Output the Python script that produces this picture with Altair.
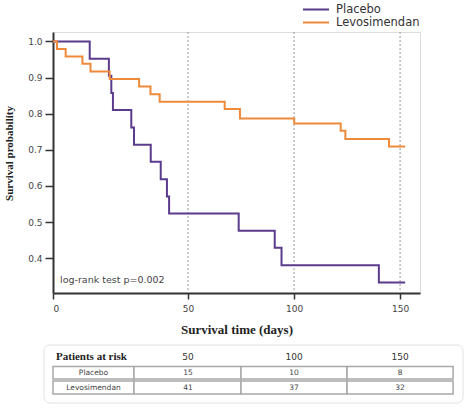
import altair as alt
import pandas as pd

# Kaplan-Meier estimates: event times (days) and survival after each step
placebo_days = [0, 13.6, 20.7, 21.6, 22.2, 29.0, 30.0, 36.2, 39.9, 42.2, 43.0, 73.9, 90.9, 94.1, 140.0, 152.4]
placebo_surv = [1.0, 0.952, 0.905, 0.857, 0.810, 0.762, 0.714, 0.667, 0.619, 0.571, 0.524, 0.476, 0.429, 0.381, 0.333, 0.333]

levo_days = [0, 1.5, 4.7, 10.9, 13.9, 21.0, 31.9, 36.1, 39.5, 67.3, 74.5, 100.1, 122.0, 124.2, 144.8, 152.4]
levo_surv = [1.0, 0.979, 0.958, 0.938, 0.917, 0.896, 0.875, 0.854, 0.833, 0.813, 0.787, 0.773, 0.753, 0.730, 0.709, 0.709]

groups = ["Placebo", "Levosimendan"]
colors = ["#5b3b8c", "#ef8a3a"]

# Patients at risk
risk_days = [50, 100, 150]
risk_placebo = [15, 10, 8]
risk_levo = [41, 37, 32]

curves = pd.concat([
    pd.DataFrame({"day": placebo_days, "surv": placebo_surv, "group": "Placebo", "order": range(len(placebo_days))}),
    pd.DataFrame({"day": levo_days, "surv": levo_surv, "group": "Levosimendan", "order": range(len(levo_days))}),
])
risk = pd.DataFrame({"day": risk_days, "placebo": risk_placebo, "levo": risk_levo,
                     "head": [str(d) for d in risk_days]})

# column edges of the at-risk table, on the day axis
edges = [0, 30, 75, 125, 175]
cells = pd.DataFrame({"start": edges[:-1], "end": edges[1:]})
labels = pd.DataFrame({"day": [15], "p": ["Placebo"], "l": ["Levosimendan"]})

W, H = 367, 261
xscale = alt.Scale(domain=[0, 50, 159.4], range=[0, 135, W], nice=False, zero=False)
yscale = alt.Scale(domain=[0.304, 1.026], nice=False, zero=False)
SANS = "DejaVu Sans"
SERIF = "Liberation Serif"

x_axis = alt.Axis(values=[0, 50, 100, 150], title="Survival time (days)", titleFont=SERIF,
                  titleFontSize=13, titleFontWeight="bold", titleColor="#222", titleY=36,
                  titleBaseline="middle", labelFont=SANS, labelFontSize=9, labelColor="#444",
                  labelPadding=5, tickSize=6, tickWidth=1.5, tickColor="#333",
                  domainColor="#333", domainWidth=2, grid=False)
y_axis = alt.Axis(values=[0.4, 0.5, 0.6, 0.7, 0.8, 0.9, 1.0], format=".1f",
                  title="Survival probability", titleFont=SERIF, titleFontSize=11,
                  titleFontWeight="bold", titleColor="#222", titleX=-44, titleY=121,
                  titleBaseline="middle", labelFont=SANS, labelFontSize=9, labelColor="#444",
                  labelPadding=3, tickSize=8, tickWidth=1.5, tickColor="#333",
                  domainColor="#333", domainWidth=2, grid=False)

guides = alt.Chart(risk).mark_rule(color="#999", strokeDash=[2, 2], strokeWidth=1).encode(
    x=alt.X("day:Q", scale=xscale, axis=x_axis)
)

lines = alt.Chart(curves).mark_line(interpolate="step-after", strokeWidth=2).encode(
    x=alt.X("day:Q", scale=xscale, axis=x_axis),
    y=alt.Y("surv:Q", scale=yscale, axis=y_axis),
    color=alt.Color("group:N", scale=alt.Scale(domain=groups, range=colors),
                    legend=alt.Legend(title=None, orient="none", legendX=249, legendY=-29,
                                      symbolType="stroke", symbolSize=676, symbolStrokeWidth=2,
                                      labelFont=SANS, labelFontSize=11.5, labelColor="#333",
                                      labelOffset=6, clipHeight=13, rowPadding=0)),
    order="order:Q",
)

logrank = alt.Chart(labels).mark_text(align="left", baseline="middle", font=SANS,
                                      fontSize=9.5, color="#444").encode(
    x=alt.value(7), y=alt.value(248), text=alt.value("log-rank test p=0.002")
)

# at-risk table below the plot
box = alt.Chart(labels).mark_rect(fill="white", stroke="#e2e2e2", strokeWidth=1, cornerRadius=6).encode(
    x=alt.value(-9), x2=alt.value(410), y=alt.value(313), y2=alt.value(371)
)
row1 = alt.Chart(cells).mark_rect(fill="white", stroke="#a8a8a8", strokeWidth=1.5).encode(
    x=alt.X("start:Q", scale=xscale), x2="end:Q", y=alt.value(334.5), y2=alt.value(347)
)
row2 = alt.Chart(cells).mark_rect(fill="white", stroke="#a8a8a8", strokeWidth=1.5).encode(
    x=alt.X("start:Q", scale=xscale), x2="end:Q", y=alt.value(349), y2=alt.value(362)
)
head_title = alt.Chart(labels).mark_text(align="left", baseline="middle", font=SERIF,
                                         fontSize=11, fontWeight="bold", color="#222").encode(
    x=alt.value(3), y=alt.value(325), text=alt.value("Patients at risk")
)
head_days = alt.Chart(risk).mark_text(baseline="middle", font=SANS, fontSize=9, color="#333").encode(
    x=alt.X("day:Q", scale=xscale), y=alt.value(325), text="head:N"
)
txt = dict(baseline="middle", font=SANS, fontSize=7.5, color="#444")
p_label = alt.Chart(labels).mark_text(**txt).encode(x=alt.X("day:Q", scale=xscale), y=alt.value(341), text="p:N")
l_label = alt.Chart(labels).mark_text(**txt).encode(x=alt.X("day:Q", scale=xscale), y=alt.value(355.5), text="l:N")
p_vals = alt.Chart(risk).mark_text(**txt).encode(x=alt.X("day:Q", scale=xscale), y=alt.value(341), text="placebo:Q")
l_vals = alt.Chart(risk).mark_text(**txt).encode(x=alt.X("day:Q", scale=xscale), y=alt.value(355.5), text="levo:Q")

chart = alt.layer(
    guides, lines, logrank, box, row1, row2, head_title, head_days, p_label, l_label, p_vals, l_vals
).properties(
    width=W, height=H, autosize="none",
    padding={"left": 53, "top": 32, "right": 52, "bottom": 119},
).configure_view(
    stroke="#444", strokeWidth=1.5
).configure(background="white")

chart.save("out.html", embed_options={"renderer": "svg", "actions": False})
